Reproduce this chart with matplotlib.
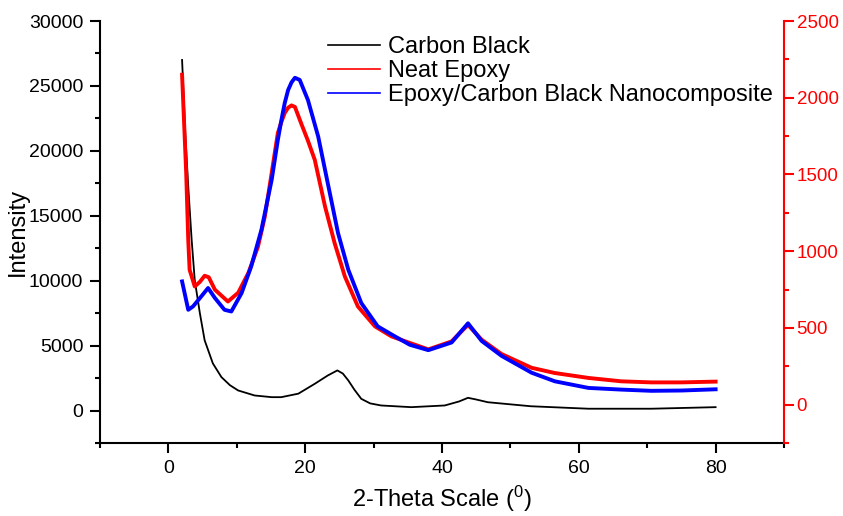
import matplotlib
matplotlib.use('Agg')
import matplotlib.pyplot as plt
from matplotlib.ticker import MultipleLocator

plt.rcParams['font.family'] = ['Liberation Sans', 'DejaVu Sans']
plt.rcParams['mathtext.default'] = 'regular'

# Carbon Black (left axis)
cb_x = [2.0, 2.5, 2.9, 3.4, 3.85, 4.6, 5.3, 6.5, 7.75, 9.0, 10.2, 12.6, 15.1, 16.5, 19.0,
        21.4, 23.3, 24.7, 25.5, 26.3, 27.2, 28.2, 29.5, 31.1, 35.5, 40.4, 42.5, 43.8,
        45.0, 46.7, 53.0, 61.4, 70.6, 80.0]
cb_y = [27000, 21000, 17260, 13140, 10050, 7500, 5410, 3630, 2575, 1950, 1546, 1160, 1030,
        1030, 1300, 2060, 2700, 3090, 2850, 2320, 1600, 900, 550, 390, 260, 390, 700, 980,
        850, 640, 330, 140, 140, 260]

# Neat Epoxy (right axis)
ne_x = [2.0, 2.6, 2.9, 3.1, 3.85, 4.6, 5.3, 5.9, 6.8, 8.7, 10.2, 11.7, 13.1, 14.1, 15.1,
        16.0, 16.5, 17.0, 17.5, 18.0, 18.5, 19.4, 20.4, 21.4, 22.9, 24.3, 25.8, 27.7,
        30.2, 32.6, 35.3, 38.0, 41.4, 43.8, 45.8, 48.7, 53.1, 56.5, 61.4, 66.2, 70.6,
        75.0, 80.0]
ne_y = [2150, 1510, 1074, 879, 770, 800, 840, 830, 749, 672, 729, 859, 1030, 1226, 1510,
        1770, 1840, 1900, 1935, 1950, 1940, 1834, 1720, 1595, 1291, 1053, 835, 640,
        510, 445, 402, 360, 412, 520, 423, 330, 240, 206, 174, 152, 145,
        145, 150]

# Epoxy/Carbon Black Nanocomposite (right axis)
nc_x = [2.0, 2.9, 3.6, 4.8, 5.8, 6.8, 8.2, 9.2, 10.7, 12.1, 13.6, 15.1, 16.0, 16.5, 17.0,
        17.5, 18.0, 18.5, 19.2, 20.4, 21.9, 23.3, 24.8, 26.3, 28.2, 30.6, 33.1, 35.3,
        38.0, 41.4, 43.8, 45.8, 48.7, 53.1, 56.5, 61.4, 66.2, 70.6, 75.0, 80.0]
nc_y = [803, 618, 640, 705, 760, 695, 618, 607, 727, 900, 1139, 1465, 1725, 1850, 1964,
        2050, 2100, 2130, 2116, 1985, 1747, 1443, 1118, 879, 662, 510, 445, 390,
        355, 405, 530, 415, 318, 208, 152, 109, 98, 90, 92, 100]

fig = plt.figure(figsize=(8.43, 5.16), dpi=100)
ax = fig.add_axes([100/843, 1 - 443/516, 684/843, 422/516])
ax2 = ax.twinx()

l1, = ax.plot(cb_x, cb_y, color='black', lw=1.3, label='Carbon Black')
l2, = ax2.plot(ne_x, ne_y, color='red', lw=2.8, label='Neat Epoxy')
l3, = ax2.plot(nc_x, nc_y, color='blue', lw=2.8, label='Epoxy/Carbon Black Nanocomposite')

ax.set_xlim(-10, 90)
ax.set_ylim(-2500, 30000)
ax2.set_ylim(-250, 2500)

ax.xaxis.set_minor_locator(MultipleLocator(10))
ax.yaxis.set_minor_locator(MultipleLocator(2500))
ax2.yaxis.set_minor_locator(MultipleLocator(250))
ax.set_xticks([0, 20, 40, 60, 80])
ax.set_yticks([0, 5000, 10000, 15000, 20000, 25000, 30000])
ax2.set_yticks([0, 500, 1000, 1500, 2000, 2500])

for a in (ax, ax2):
    a.spines['top'].set_visible(False)
    for s in a.spines.values():
        s.set_linewidth(1.5)
ax.spines['right'].set_visible(False)
ax2.spines['left'].set_visible(False)
ax2.spines['bottom'].set_visible(False)
ax2.spines['right'].set_color('red')

ax.tick_params(which='major', direction='out', length=7, width=1.5, labelsize=14, pad=5)
ax.tick_params(which='minor', direction='out', length=3.5, width=1.5)
ax2.tick_params(which='major', direction='out', length=7, width=1.5, labelsize=13.5, pad=2,
                colors='red')
ax2.tick_params(which='minor', direction='out', length=3.5, width=1.5, colors='red')

ax.set_ylabel('Intensity', fontsize=17, labelpad=0)
ax.set_xlabel('2-Theta Scale ($^{0}$)', fontsize=17, labelpad=5)

ax2.legend(handles=[l1, l2, l3], loc='upper left', bbox_to_anchor=(0.333, 0.965),
           frameon=False, fontsize=17, borderpad=0, borderaxespad=0,
           handlelength=2.2, handletextpad=0.35, labelspacing=0.1)
for h in ax2.get_legend().get_lines():
    h.set_linewidth(1.2)

fig.savefig('out.png', dpi=100)
